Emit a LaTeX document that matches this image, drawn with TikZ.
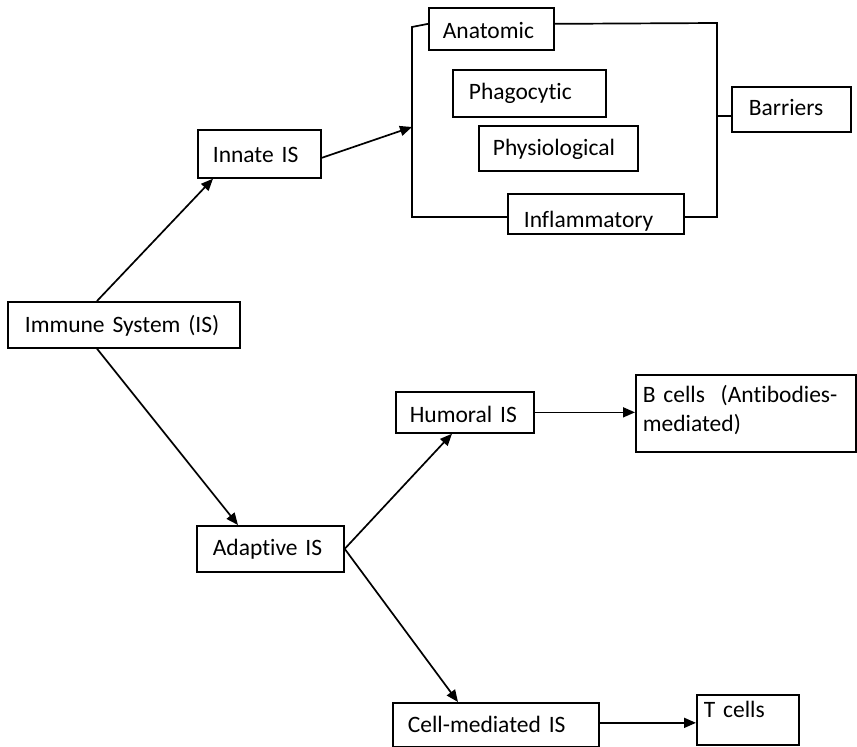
\documentclass[tikz,border=0pt]{standalone}
\usepackage{fontspec}
\setmainfont{Carlito}[Ligatures=NoCommon]
\usetikzlibrary{arrows.meta}
\begin{document}
\begin{tikzpicture}[x=1pt,y=-1pt,
  box/.style={draw, line width=1.7pt, anchor=north west, inner ysep=0pt, align=left,
    font=\fontsize{23.5pt}{29pt}\selectfont},
  conn/.style={line width=1.7pt},
  arr/.style={line width=1.7pt, -{Triangle[length=12pt,width=10pt]}}]
\useasboundingbox[fill=white] (0,0) rectangle (857,747);
% boxes
\node[box, minimum width=125pt, minimum height=42pt, inner xsep=14pt, text width=97pt, text height=31pt, text depth=11pt] (anat) at (428,7) {Anatomic};
\node[box, minimum width=153pt, minimum height=47pt, inner xsep=16pt, text width=121pt, text height=30pt, text depth=17pt] (phago) at (452,69) {Phagocytic};
\node[box, minimum width=159pt, minimum height=45pt, inner xsep=14pt, text width=131pt, text height=30pt, text depth=15pt] (physio) at (478,125) {Physiological};
\node[box, minimum width=176pt, minimum height=40pt, inner xsep=16pt, text width=144pt, text height=34pt, text depth=6pt] (infl) at (507,193) {Inflammatory};
\node[box, minimum width=119pt, minimum height=45pt, inner xsep=17pt, text width=85pt, text height=29pt, text depth=16pt] (barr) at (731,86) {Barriers};
\node[box, minimum width=123pt, minimum height=48pt, inner xsep=15pt, text width=93pt, text height=33pt, text depth=15pt] (innate) at (197,129) {Innate IS};
\node[box, minimum width=232pt, minimum height=46pt, inner xsep=17pt, text width=198pt, text height=31pt, text depth=15pt] (imm) at (7,301) {Immune System (IS)};
\node[box, minimum width=147pt, minimum height=46pt, inner xsep=16pt, text width=115pt, text height=30pt, text depth=16pt] (adapt) at (196,525) {Adaptive IS};
\node[box, minimum width=138pt, minimum height=41pt, inner xsep=14pt, text width=110pt, text height=31pt, text depth=10pt] (hum) at (395,391) {Humoral IS};
\node[box, minimum width=220pt, minimum height=77pt, inner xsep=7pt, text width=206pt, text height=28pt, text depth=49pt] (bcells) at (635,374) {B cells\ \ (Antibodies-\\mediated)};
\node[box, minimum width=206pt, minimum height=44pt, inner xsep=15pt, text width=176pt, text height=30pt, text depth=14pt] (cm) at (392,702) {Cell-mediated IS};
\node[box, minimum width=102pt, minimum height=50pt, inner xsep=7pt, text width=88pt, text height=23pt, text depth=27pt] (tcells) at (696,694) {T cells};
% bracket coordinates
\coordinate (btl) at (412,27);
\coordinate (bbl) at (412,217);
\coordinate (bin) at (412,127);
\coordinate (btr) at (717,23);
\coordinate (bbr) at (717,217);
\coordinate (bmid) at (717,116);
% bracket
\draw[conn] ([yshift=5pt]anat.west) -- (btl) -- (bbl) -- (bbl -| infl.west);
\draw[conn] ([yshift=5pt]anat.east) -- (btr) -- (bbr) -- (bbr -| infl.east);
\draw[conn] (bmid) -- (bmid -| barr.west);
% arrows
\draw[arr] ([yshift=-4pt]innate.east) -- (bin);
\draw[arr] ([xshift=90pt]imm.north west) -- ([xshift=16pt]innate.south west);
\draw[arr] ([xshift=90pt]imm.south west) -- ([xshift=42pt]adapt.north west);
\draw[arr] (adapt.east) -- ([xshift=57pt]hum.south west);
\draw[arr] (adapt.east) -- ([xshift=66pt]cm.north west);
\draw[arr] (hum.east) -- (hum.east -| bcells.west);
\draw[arr] ([yshift=2pt]cm.east) -- ([yshift=2pt]cm.east -| tcells.west);
\end{tikzpicture}
\end{document}
